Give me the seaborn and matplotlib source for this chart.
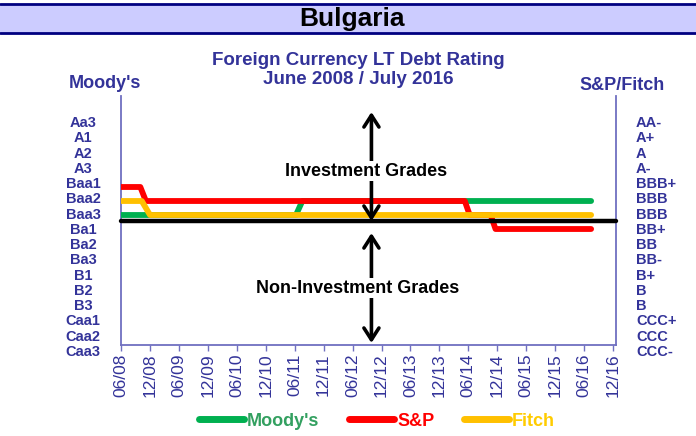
import matplotlib.pyplot as plt
import pandas as pd
from matplotlib.lines import Line2D
from matplotlib.patches import Rectangle

import seaborn as sns

# rating scale: 16 = Aa3 / AA-  ...  1 = Caa3 / CCC-
moodys_labels = ["Aa3", "A1", "A2", "A3", "Baa1", "Baa2", "Baa3", "Ba1",
                 "Ba2", "Ba3", "B1", "B2", "B3", "Caa1", "Caa2", "Caa3"]
sp_fitch_labels = ["AA-", "A+", "A", "A-", "BBB+", "BBB", "BBB", "BB+",
                   "BB", "BB-", "B+", "B", "B", "CCC+", "CCC", "CCC-"]

moodys_dates = ["2008-06-01", "2011-06-10", "2011-07-20", "2016-07-15"]
moodys_levels = [10, 10, 11, 11]
sp_dates = ["2008-06-01", "2008-10-01", "2008-11-05", "2014-05-10",
            "2014-06-10", "2014-10-20", "2014-11-20", "2016-07-15"]
sp_levels = [12, 12, 11, 11, 10, 10, 9, 9]
fitch_dates = ["2008-06-01", "2008-10-10", "2008-12-01", "2016-07-15"]
fitch_levels = [11, 11, 10, 10]
investment_line = 9.55

tick_dates = pd.date_range("2008-06-01", "2016-12-01", freq="6MS")

df = pd.concat([
    pd.DataFrame({"date": pd.to_datetime(moodys_dates), "level": moodys_levels, "agency": "Moody's"}),
    pd.DataFrame({"date": pd.to_datetime(sp_dates), "level": sp_levels, "agency": "S&P"}),
    pd.DataFrame({"date": pd.to_datetime(fitch_dates), "level": fitch_levels, "agency": "Fitch"}),
])

colors = {"Moody's": "#00b050", "S&P": "#ff0000", "Fitch": "#ffc000"}
text_colors = {"Moody's": "#33a060", "S&P": "#ff0000", "Fitch": "#ffcc00"}
navy = "#333399"
spine_col = "#7070c0"

sns.set_theme(style="white")
plt.rcParams["font.family"] = ["Liberation Sans", "DejaVu Sans"]

W, H = 696, 436
fig = plt.figure(figsize=(W / 100, H / 100), dpi=100)
ax = fig.add_axes([121 / W, 1 - 345 / H, (616 - 121) / W, (345 - 96) / H])

# draw order: green, red, yellow
for name in ["Moody's", "S&P", "Fitch"]:
    sns.lineplot(data=df[df["agency"] == name], x="date", y="level", color=colors[name],
                 estimator=None, sort=False, linewidth=4.2, solid_capstyle="round",
                 ax=ax, legend=False, zorder=3)

ax.axhline(investment_line, color="black", linewidth=3.2, zorder=5, clip_on=False)

ax.set_xlim(pd.Timestamp("2008-06-01"), pd.Timestamp("2016-12-19"))
ax.set_ylim(10 - 130 / 14, 10 + 119 / 14)
ax.set_xticks(tick_dates)
ax.set_xticklabels([d.strftime("%m/%y") for d in tick_dates], rotation=90,
                   color=navy, fontsize=12.5)
ax.set_yticks([])
ax.set_xlabel("")
ax.set_ylabel("")
ax.tick_params(axis="x", direction="out", length=4, width=1, color=spine_col, pad=2, bottom=True)
for s in ["left", "right", "bottom"]:
    ax.spines[s].set_color(spine_col)
    ax.spines[s].set_linewidth(1.3)
ax.spines["top"].set_visible(False)

# rating labels on both sides
n = len(moodys_labels)
for i in range(n):
    yf = 0.891 - i * (0.891 + 0.028) / (n - 1)
    ax.text(-38 / (616 - 121), yf, moodys_labels[i], transform=ax.transAxes, ha="center",
            va="center", color=navy, fontsize=10.5, fontweight="bold")
    ax.text(1 + 20 / (616 - 121), yf, sp_fitch_labels[i], transform=ax.transAxes, ha="left",
            va="center", color=navy, fontsize=10.5, fontweight="bold")

# investment / non-investment arrows
arrow_x = pd.Timestamp("2012-09-28")
akw = dict(arrowstyle="->,head_length=0.7,head_width=0.45", lw=2.6, color="black",
           shrinkA=0, shrinkB=0)
ax.annotate("", xy=(arrow_x, 10 + (215 - 112) / 14), xytext=(arrow_x, 10 + (215 - 170) / 14), arrowprops=akw)
ax.annotate("", xy=(arrow_x, 10 + (215 - 221) / 14), xytext=(arrow_x, 10 + (215 - 172) / 14), arrowprops=akw)
ax.annotate("", xy=(arrow_x, 10 + (215 - 233) / 14), xytext=(arrow_x, 10 + (215 - 290) / 14), arrowprops=akw)
ax.annotate("", xy=(arrow_x, 10 + (215 - 343) / 14), xytext=(arrow_x, 10 + (215 - 288) / 14), arrowprops=akw)
fig.text(366 / W, 1 - 171 / H, "Investment Grades", ha="center", va="center", fontsize=13,
         fontweight="bold", color="black", bbox=dict(facecolor="white", edgecolor="none", pad=1))
fig.text(358 / W, 1 - 288 / H, "Non-Investment Grades", ha="center", va="center", fontsize=13,
         fontweight="bold", color="black", bbox=dict(facecolor="white", edgecolor="none", pad=1))

# header band
fig.patches.append(Rectangle((0, 1 - 33 / H), 1, 29 / H, transform=fig.transFigure,
                             facecolor="#ccccff", edgecolor="none", zorder=0))
fig.add_artist(Line2D([0, 1], [1 - 4 / H, 1 - 4 / H], transform=fig.transFigure, color="#000080", lw=2))
fig.add_artist(Line2D([0, 1], [1 - 33 / H, 1 - 33 / H], transform=fig.transFigure, color="#000080", lw=2))
fig.text(352 / W, 1 - 19 / H, "Bulgaria", ha="center", va="center", fontsize=19,
         fontweight="bold", color="black")

fig.text(358 / W, 1 - 70 / H, "Foreign Currency LT Debt Rating\nJune 2008 / July 2016",
         ha="center", va="center", fontsize=13.5, fontweight="bold", color=navy, linespacing=1.1)
fig.text(105 / W, 1 - 83 / H, "Moody's", ha="center", va="center", fontsize=13,
         fontweight="bold", color=navy)
fig.text(622 / W, 1 - 85 / H, "S&P/Fitch", ha="center", va="center", fontsize=13,
         fontweight="bold", color=navy)

# legend
handles = [Line2D([0], [0], color=colors[k], lw=5, solid_capstyle="round") for k in colors]
leg = fig.legend(handles, list(colors), loc="center", bbox_to_anchor=(377 / W, 1 - 421 / H),
                 ncol=3, frameon=False, handlelength=2.5, handletextpad=0.15, columnspacing=1.65,
                 prop={"weight": "bold", "size": 13})
for t, k in zip(leg.get_texts(), colors):
    t.set_color(text_colors[k])

fig.savefig("out.png", dpi=100)
